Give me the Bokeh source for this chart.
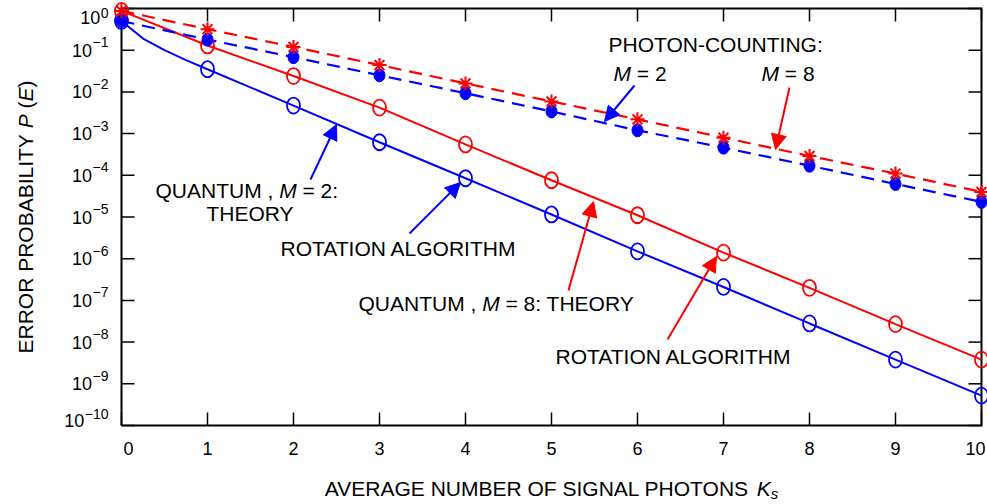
from math import pi
from bokeh.plotting import figure
from bokeh.models import Label, Arrow, NormalHead
from bokeh.embed import file_html
from bokeh.resources import INLINE

# ---------------- data ----------------
ks = [0, 1, 2, 3, 4, 5, 6, 7, 8, 9, 10]
theory_m2_k = [0, 0.25, 0.5, 0.75, 1, 2, 3, 4, 5, 6, 7, 8, 9, 10]
theory_m2 = [0.5, 0.19, 0.10, 0.058, 0.035, 0.0047, 6.2e-4, 8.5e-5, 1.15e-5,
             1.5e-6, 2.1e-7, 2.8e-8, 3.8e-9, 5.2e-10]
rot_m2 = [0.5, 0.035, 0.0047, 6.2e-4, 8.5e-5, 1.15e-5, 1.5e-6, 2.1e-7,
          2.8e-8, 3.8e-9, 5.2e-10]
theory_m8 = [0.875, 0.13, 0.024, 0.0042, 5.5e-4, 7.6e-5, 1.1e-5, 1.4e-6,
             2.0e-7, 2.7e-8, 3.8e-9]
rot_m8 = [0.875, 0.13, 0.024, 0.0042, 5.5e-4, 7.6e-5, 1.1e-5, 1.4e-6,
          2.0e-7, 2.7e-8, 3.8e-9]
pc_m2 = [0.5, 0.18, 0.068, 0.025, 0.0093, 0.0034, 0.0012, 4.6e-4, 1.7e-4,
         6.2e-5, 2.3e-5]
pc_m8 = [0.875, 0.32, 0.12, 0.044, 0.016, 0.0059, 0.0022, 8.0e-4, 2.9e-4,
         1.1e-4, 4.0e-5]
x_tick_labels = ["0", "1", "2", "3", "4", "5", "6", "7", "8", "9", "10"]
y_exponents = [0, -1, -2, -3, -4, -5, -6, -7, -8, -9, -10]

# ---------------- styles / geometry ----------------
FONT = "Liberation Sans"
BLUE = "#0000ff"
RED = "#ff0000"
INK = "black"
W, H = 987, 504
# plot box (pixels from the top-left of the canvas)
PL, PR, PT, PB = 121, 981, 8, 425
X0, X1 = 0, 10
YL0, YL1 = -10, 0
TICK = 13

AW = {' ': 278, ',': 278, '-': 333, ':': 278, '=': 584, '(': 333, ')': 333,
      '\u2212': 584, 'A': 667, 'B': 667, 'C': 722, 'D': 722, 'E': 667,
      'F': 611, 'G': 778, 'H': 722, 'I': 278, 'K': 667, 'L': 556, 'M': 833,
      'N': 722, 'O': 778, 'P': 667, 'Q': 778, 'R': 722, 'S': 667, 'T': 611,
      'U': 722, 'V': 667, 'Y': 667, 's': 500}


def tw(s, size):
    return sum(AW.get(c, 556) for c in s) * size / 1000.0


def px_x(px):
    return X0 + (px - PL) / (PR - PL) * (X1 - X0)


def px_y(py):
    return 10 ** (YL0 + (PB - py) / (PB - PT) * (YL1 - YL0))


def x_px(x):
    return PL + (x - X0) / (X1 - X0) * (PR - PL)


def e_py(e):
    return PB - (e - YL0) / (YL1 - YL0) * (PB - PT)


p = figure(width=W, height=H, x_range=(px_x(0), px_x(W)),
           y_range=(px_y(H), px_y(0)), y_axis_type="log",
           output_backend="svg", toolbar_location=None,
           x_axis_location=None, y_axis_location=None, min_border=0)
p.grid.visible = False
p.outline_line_color = None
p.background_fill_color = "white"
p.border_fill_color = "white"

# ---------------- plot box and ticks ----------------
ylo, yhi = 10.0 ** YL0, 10.0 ** YL1
tx0, tx1, ty0, ty1 = [], [], [], []
for k in ks:
    tx0 += [k, k]
    tx1 += [k, k]
    ty0 += [ylo, yhi]
    ty1 += [px_y(PB - TICK), px_y(PT + TICK)]
for e in y_exponents:
    v = 10.0 ** e
    tx0 += [X0, X1]
    tx1 += [px_x(PL + TICK), px_x(PR - TICK)]
    ty0 += [v, v]
    ty1 += [v, v]
p.segment(tx0, ty0, tx1, ty1, line_color=INK, line_width=1.5)
p.line([X0, X1, X1, X0, X0], [ylo, ylo, yhi, yhi, ylo], line_color=INK,
       line_width=2, line_join="miter")

# ---------------- series ----------------
p.line(theory_m2_k, theory_m2, line_color=BLUE, line_width=2)
p.line(ks, theory_m8, line_color=RED, line_width=2)
p.line(ks, pc_m2, line_color=BLUE, line_width=2.2, line_dash="13 8")
p.line(ks, pc_m8, line_color=RED, line_width=2.2, line_dash="13 8")
p.ellipse(ks, rot_m2, width=13, height=16, width_units="screen",
          height_units="screen", fill_color=None, line_color=BLUE, line_width=1.8)
p.ellipse(ks, rot_m8, width=13, height=16, width_units="screen",
          height_units="screen", fill_color=None, line_color=RED, line_width=1.8)
p.ellipse(ks, pc_m2, width=11, height=13, width_units="screen",
          height_units="screen", fill_color=BLUE, line_color=BLUE, line_width=1)
p.scatter(ks, pc_m8, marker="asterisk", size=14, line_color=RED, line_width=2)


# ---------------- text helpers ----------------
def put(text, px, py, size, style="normal", align="left", angle=0.0):
    p.add_layout(Label(x=px_x(px), y=px_y(py), text=text, text_font=FONT,
                       text_font_size=f"{size}px", text_font_style=style,
                       text_align=align, text_baseline="middle", angle=angle,
                       text_color=INK))


def rich(parts, left, cy, size=21):
    cur = left
    for txt, style, sz, dy in parts:
        s = sz or size
        t = txt.strip()
        lead = len(txt) - len(txt.lstrip())
        if t:
            put(t, cur + tw(txt[:lead], s), cy + dy, s, style)
        cur += tw(txt, s)


def rich_v(parts, cx, bottom, size=21):
    cur = bottom
    for txt, style in parts:
        t = txt.strip()
        lead = len(txt) - len(txt.lstrip())
        if t:
            put(t, cx, cur - tw(txt[:lead], size), size, style, angle=pi / 2)
        cur -= tw(txt, size)


def arrow(x0, y0, x1, y1, color):
    p.add_layout(Arrow(end=NormalHead(size=15, fill_color=color, line_color=color,
                                      line_width=1),
                       x_start=px_x(x0), y_start=px_y(y0),
                       x_end=px_x(x1), y_end=px_y(y1),
                       line_color=color, line_width=2))


# ---------------- tick labels ----------------
for i, lab in enumerate(x_tick_labels):
    cx = x_px(ks[i])
    if i == 0:
        cx += 7
    elif i == len(x_tick_labels) - 1:
        cx -= 6
    put(lab, cx, 448, 18, align="center")

for e in y_exponents:
    ty = e_py(e)
    if e == YL1:
        cy, ey = 17, 12
    elif e == YL0:
        cy, ey = 420, 413
    else:
        cy, ey = ty, ty - 8
    exp_txt = str(e).replace("-", "\u2212")
    right = 108
    ew = tw(exp_txt, 14)
    put(exp_txt, right, ey, 14, align="right")
    put("10", right - ew - 0.5, cy, 18, align="right")

# ---------------- axis titles ----------------
xl_parts = [("AVERAGE NUMBER OF SIGNAL PHOTONS ", "normal", None, 0),
            ("K", "italic", None, 0), ("s", "italic", 15, 5)]
xl_w = tw("AVERAGE NUMBER OF SIGNAL PHOTONS K", 21) + tw("s", 15)
rich(xl_parts, (PL + PR) / 2 - xl_w / 2, 488)

yl_parts = [("ERROR PROBABILITY ", "normal"), ("P", "italic"), (" (", "normal"),
            ("E", "italic"), (")", "normal")]
yl_w = tw("ERROR PROBABILITY P (E)", 21)
rich_v(yl_parts, 25, (PT + PB) / 2 + yl_w / 2)

# ---------------- annotations ----------------
rich([("PHOTON-COUNTING:", "normal", None, 0)], 608, 44)
rich([("M", "italic", None, 0), (" = 2", "normal", None, 0)], 613, 73)
rich([("M", "italic", None, 0), (" = 8", "normal", None, 0)], 761, 73)
rich([("QUANTUM , ", "normal", None, 0), ("M", "italic", None, 0),
      (" = 2:", "normal", None, 0)], 155, 190)
rich([("THEORY", "normal", None, 0)], 206, 213)
rich([("ROTATION ALGORITHM", "normal", None, 0)], 280, 248)
rich([("QUANTUM , ", "normal", None, 0), ("M", "italic", None, 0),
      (" = 8: THEORY", "normal", None, 0)], 358, 303)
rich([("ROTATION ALGORITHM", "normal", None, 0)], 555, 356)

arrow(310, 179, 336, 124, BLUE)
arrow(409, 233, 460, 182, BLUE)
arrow(568, 290, 593, 201, RED)
arrow(667, 339, 716, 256, RED)
arrow(634, 85, 604, 121, BLUE)
arrow(789, 87, 775, 149, RED)

open("out.html", "w").write(file_html(p, INLINE))
